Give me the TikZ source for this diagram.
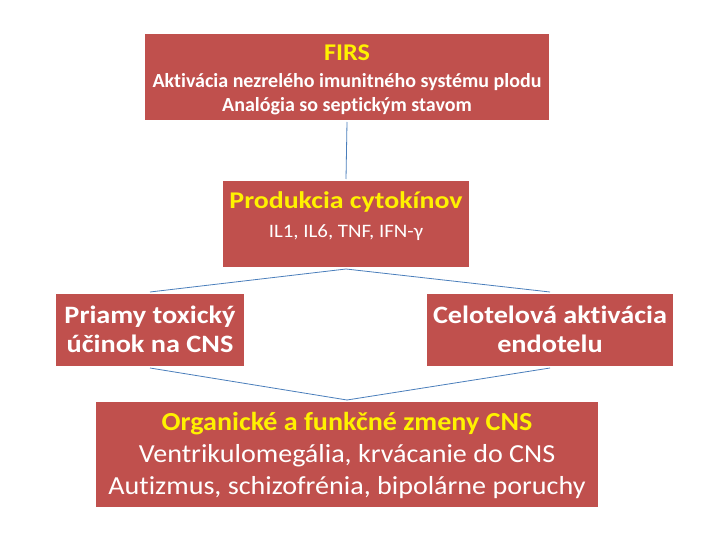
\documentclass[tikz,border=0pt]{standalone}
\usepackage{fontspec}
\setmainfont{Carlito}[Ligatures=NoCommon]
\usetikzlibrary{positioning}
\definecolor{boxred}{HTML}{C0504D}
\definecolor{linkblue}{HTML}{4A7EBB}
\tikzset{
    box/.style={fill=boxred, inner sep=0pt, outer sep=2pt},
    head/.style={text=yellow, align=center, anchor=base, transform shape},
    body/.style={text=white, align=center, anchor=base, transform shape},
    link/.style={linkblue, line width=0.8pt},
}
\begin{document}
\begin{tikzpicture}[x=1pt,y=-1pt]
    \useasboundingbox (0,0) rectangle (720,540);

    % boxes
    \node[box, minimum width=404pt, minimum height=86pt] (firs) at (347,77) {};
    \node[box, minimum width=246pt, minimum height=86pt] (cyto) at (346,224) {};
    \node[box, minimum width=188pt, minimum height=72pt] (toxic) at (150,330) {};
    \node[box, minimum width=246pt, minimum height=72pt] (endo) at (550,330) {};
    \node[box, minimum width=502pt, minimum height=105pt] (cns) at (347,454.5) {};

    % texts (anchor base = last line)
    \node[head, font=\fontsize{24}{28}\selectfont\bfseries, xscale=1.09] (firshead) at (347,61) {FIRS};
    \node[body, font=\fontsize{20}{24}\selectfont\bfseries] (firstext) at (347,112)
        {Aktivácia nezrelého imunitného systému plodu\\Analógia so septickým stavom};
    \node[head, font=\fontsize{24}{28}\selectfont\bfseries, xscale=1.16] (cytohead) at (346,208) {Produkcia cytokínov};
    \node[body, font=\fontsize{19}{23}\selectfont, xscale=1.1] (cytotext) at (346,237) {IL1, IL6, TNF, IFN-γ};
    \node[body, font=\fontsize{25}{29}\selectfont\bfseries, xscale=1.13] (toxictext) at (150,352) {Priamy toxický\\účinok na CNS};
    \node[body, font=\fontsize{25}{29}\selectfont\bfseries, xscale=1.13] (endotext) at (550,352) {Celotelová aktivácia\\endotelu};
    \node[head, font=\fontsize{26}{32}\selectfont\bfseries, xscale=1.08] (cnshead) at (347,430) {Organické a funkčné zmeny CNS};
    \node[body, font=\fontsize{26}{32}\selectfont, xscale=1.08] (cnstext) at (347,494)
        {Ventrikulomegália, krvácanie do CNS\\Autizmus, schizofrénia, bipolárne poruchy};

    % connectors
    \draw[link] (firs.south) -- (cyto.north);
    \draw[link] (cyto.south) -- (toxic.north);
    \draw[link] (cyto.south) -- (endo.north);
    \draw[link] (toxic.south) -- (cns.north);
    \draw[link] (endo.south) -- (cns.north);
\end{tikzpicture}
\end{document}
